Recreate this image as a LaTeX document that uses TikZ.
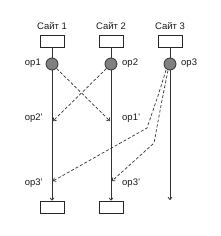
\documentclass[tikz,border=0pt]{standalone}
\usepackage{fontspec}
\setmainfont{Liberation Sans}
\usetikzlibrary{arrows.meta}
\begin{document}
\begin{tikzpicture}[x=1pt,y=-1pt,
  font=\fontsize{9.5}{11}\selectfont,
  box/.style={draw=black!85,fill=white,minimum width=24pt,minimum height=12pt,inner sep=0pt,line width=0.8pt},
  opc/.style={circle,draw=black!80,fill=black!50,minimum size=12pt,inner sep=0pt,line width=0.8pt},
  lbl/.style={inner sep=0pt,text=black!90},
  plain line/.style={draw=black!80,line width=0.8pt},
  solid line/.style={plain line,-{To[length=3pt,width=4.5pt]}},
  dash line/.style={draw=black!80,line width=0.7pt,dash pattern=on 3pt off 2pt,-{To[length=3pt,width=4.5pt]}}]
\useasboundingbox (0,0) rectangle (220,236);
% sites
\node[lbl] (s1) at (52,26) {Сайт 1};
\node[lbl] (s2) at (111,26) {Сайт 2};
\node[lbl] (s3) at (170,26) {Сайт 3};
\node[box] (t1) at (52,41) {};
\node[box] (t2) at (111,41) {};
\node[box] (t3) at (170,41) {};
\node[opc] (c1) at (52,64) {};
\node[opc] (c2) at (111,64) {};
\node[opc] (c3) at (170,64) {};
\node[box] (b1) at (52,207) {};
\node[box] (b2) at (111,207) {};
\coordinate (e3) at (170,200);
% labels
\node[lbl,anchor=east] (l1) at (41,63) {op1};
\node[lbl,anchor=west] (l2) at (122,63) {op2};
\node[lbl,anchor=west] (l3) at (181,63) {op3};
\node[lbl,anchor=east] (l21) at (43,118) {op2'};
\node[lbl,anchor=west] (l12) at (122,118) {op1'};
\node[lbl,anchor=east] (l31) at (43,183) {op3'};
\node[lbl,anchor=west] (l32) at (122,183) {op3'};
% vertical lines
\draw[plain line] (t1) -- (c1);
\draw[plain line] (t2) -- (c2);
\draw[plain line] (t3) -- (c3);
\draw[solid line] (c1) -- (b1);
\draw[solid line] (c2) -- (b2);
\draw[solid line] (c3) -- (e3);
% dashed
\coordinate (a12) at (110,121);
\coordinate (a21) at (53,121);
\coordinate (k1) at (147,128);
\coordinate (k2) at (154,143);
\coordinate (a31) at (53,181);
\coordinate (a32) at (112,181);
\coordinate (d1) at (166,70);
\coordinate (d2) at (168,70.5);
\draw[dash line] (c1) -- (a12);
\draw[dash line] (c2) -- (a21);
\draw[dash line] (d1) .. controls (160,90) .. (k1) -- (a31);
\draw[dash line] (d2) .. controls (162,100) .. (k2) -- (a32);
\end{tikzpicture}
\end{document}
